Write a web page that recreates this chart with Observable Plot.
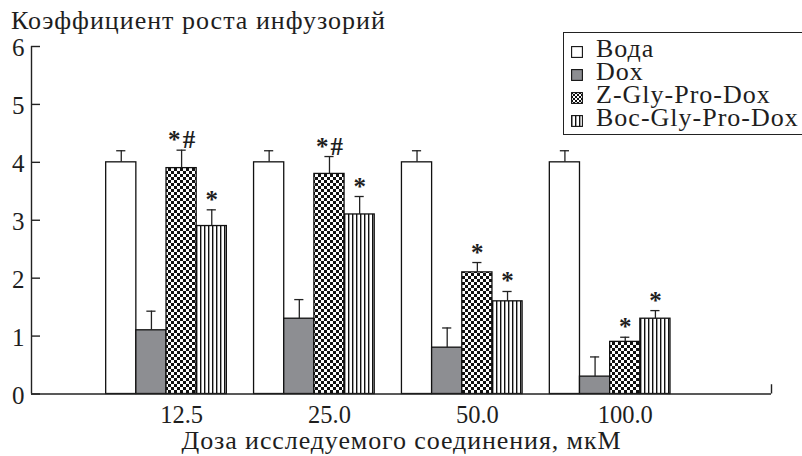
<!DOCTYPE html>
<html><head><meta charset="utf-8">
<script src="https://cdn.jsdelivr.net/npm/d3@7"></script>
<script src="https://cdn.jsdelivr.net/npm/@observablehq/plot@0.6"></script>
<style>
body{margin:0;background:#fff;}
#wrap{position:relative;width:802px;height:456px;overflow:hidden;color:#1e1e1e;}
#chart{position:absolute;left:0;top:0;}
#title{position:absolute;left:11px;top:8px;font-size:26px;line-height:1;white-space:nowrap;letter-spacing:1px;}
#legend{position:absolute;left:563px;top:32px;width:260px;height:103px;border:1.3px solid #222;box-sizing:border-box;padding-top:4px;}
.row{display:flex;align-items:center;height:23px;font-size:26px;line-height:22px;white-space:nowrap;letter-spacing:1px;}
.row span{display:block;line-height:22px;}
.row svg{margin-left:7px;margin-right:13px;flex:none;position:relative;top:3px;}
</style></head><body><div id="wrap"><div id="chart"></div><div id="title" style="font-family:'Liberation Serif', serif"></div><div id="legend" style="font-family:'Liberation Serif', serif"></div></div>
<script>
const groups = ["12.5", "25.0", "50.0", "100.0"];
const series = ["Вода", "Dox", "Z-Gly-Pro-Dox", "Boc-Gly-Pro-Dox"];
const water = [4.0, 4.0, 4.0, 4.0];
const waterErr = [0.2, 0.2, 0.2, 0.2];
const dox = [1.1, 1.3, 0.8, 0.3];
const doxErr = [0.33, 0.33, 0.34, 0.34];
const zgp = [3.9, 3.8, 2.1, 0.9];
const zgpErr = [0.31, 0.3, 0.17, 0.08];
const boc = [2.9, 3.1, 1.6, 1.3];
const bocErr = [0.28, 0.31, 0.17, 0.14];
const waterMarks = ["", "", "", ""];
const doxMarks = ["", "", "", ""];
const zgpMarks = ["*\u200A#", "*\u200A#", "*", "*"];
const bocMarks = ["*", "*", "*", "*"];
const yTicks = [0, 1, 2, 3, 4, 5, 6];
const yTitle = "Коэффициент роста инфузорий";
const xTitle = "Доза исследуемого соединения, мкМ";

const FONT = "'Liberation Serif', serif";
const fills = ["#ffffff", "#8d8e92", "url(#checker)", "url(#stripes)"];
const vals = [water, dox, zgp, boc];
const errs = [waterErr, doxErr, zgpErr, bocErr];
const marks = [waterMarks, doxMarks, zgpMarks, bocMarks];

const rows = [];
groups.forEach((grp, g) => series.forEach((ser, s) => {
  rows.push({g, s, group: grp, series: ser, value: vals[s][g], err: errs[s][g], mark: marks[s][g]});
}));

const bw = 0.204;            // bar width in group-step units
const xDomain = [-0.913, 4.091];
const left = d => d.g + (d.s - 2) * bw;
const mid = d => d.g + (d.s - 1.5) * bw;
const ink = "#1e1e1e";

const barMarks = series.map((ser, s) =>
  Plot.rectY(rows.filter(d => d.s === s), {
    x1: left, x2: d => left(d) + bw, y1: 0, y2: "value",
    fill: fills[s], stroke: "#111", strokeWidth: 1.3
  })
);

const plot = Plot.plot({
  width: 802, height: 456,
  marginTop: 46, marginBottom: 62.5, marginLeft: 31, marginRight: 31,
  style: {fontFamily: FONT, fontSize: "25px", color: ink, background: "white"},
  x: {type: "linear", domain: xDomain, axis: null},
  y: {domain: [0, 6], axis: null},
  marks: [
    ...barMarks,
    Plot.ruleX(rows, {x: mid, y1: "value", y2: d => d.value + d.err, stroke: "#222", strokeWidth: 1.3}),
    Plot.ruleY(rows, {y: d => d.value + d.err, x1: d => mid(d) - 0.031, x2: d => mid(d) + 0.031, stroke: "#222", strokeWidth: 1.3}),
    Plot.text(rows.filter(d => d.mark), {x: mid, y: d => d.value + d.err, text: "mark", lineAnchor: "bottom", dy: -2, fontSize: 25, fontWeight: "bold", fill: ink}),
    Plot.ruleY([0], {stroke: "#222", strokeWidth: 1.4}),
    Plot.ruleX([xDomain[0]], {y1: 0, y2: 6, stroke: "#222", strokeWidth: 1.4}),
    Plot.ruleX([xDomain[1]], {y1: 0, y2: 0.16, stroke: "#222", strokeWidth: 1.4}),
    Plot.ruleY(yTicks, {y: d => d, x1: xDomain[0], x2: xDomain[0] + 0.061, stroke: "#222", strokeWidth: 1.4}),
    Plot.text(yTicks, {y: d => d, text: d => String(d), frameAnchor: "left", textAnchor: "end", dx: -7, dy: 1.5, fontSize: 25, fill: ink}),
    Plot.text(groups, {x: (d, i) => i + 0.5 * bw, text: d => d, frameAnchor: "bottom", lineAnchor: "bottom", dy: 29, fontSize: 24.5, fill: ink}),
    Plot.text([xTitle], {text: d => d, frameAnchor: "bottom", lineAnchor: "bottom", dy: 54.5, fontSize: 26, fill: ink})
  ]
});

const svg = d3.select(plot);
svg.selectAll("text").filter(function() { return this.textContent === xTitle; }).style("letter-spacing", "0.9px");
const defs = svg.insert("defs", ":first-child");
const chk = defs.append("pattern").attr("id", "checker").attr("width", 6).attr("height", 6).attr("patternUnits", "userSpaceOnUse");
chk.append("rect").attr("width", 6).attr("height", 6).attr("fill", "#fff");
chk.append("rect").attr("width", 3).attr("height", 3).attr("fill", "#111");
chk.append("rect").attr("x", 3).attr("y", 3).attr("width", 3).attr("height", 3).attr("fill", "#111");
const str = defs.append("pattern").attr("id", "stripes").attr("width", 4).attr("height", 4).attr("patternUnits", "userSpaceOnUse");
str.append("rect").attr("width", 4).attr("height", 4).attr("fill", "#fff");
str.append("rect").attr("width", 1.4).attr("height", 4).attr("fill", "#111");
const chkS = defs.append("pattern").attr("id", "checkerS").attr("width", 4).attr("height", 4).attr("patternUnits", "userSpaceOnUse");
chkS.append("rect").attr("width", 4).attr("height", 4).attr("fill", "#fff");
chkS.append("rect").attr("width", 2).attr("height", 2).attr("fill", "#111");
chkS.append("rect").attr("x", 2).attr("y", 2).attr("width", 2).attr("height", 2).attr("fill", "#111");

document.getElementById("chart").appendChild(plot);
document.getElementById("title").textContent = yTitle;

const legendFills = ["#ffffff", "#8d8e92", "url(#checkerS)", "url(#stripes)"];
const legend = d3.select("#legend");
series.forEach((ser, s) => {
  const row = legend.append("div").attr("class", "row");
  const sw = row.append("svg").attr("width", 12).attr("height", 12);
  sw.append("rect").attr("x", 0.6).attr("y", 0.6).attr("width", 10.8).attr("height", 10.8)
    .attr("fill", legendFills[s]).attr("stroke", "#111").attr("stroke-width", 1.1);
  row.append("span").text(ser);
});
</script>
</body></html>
